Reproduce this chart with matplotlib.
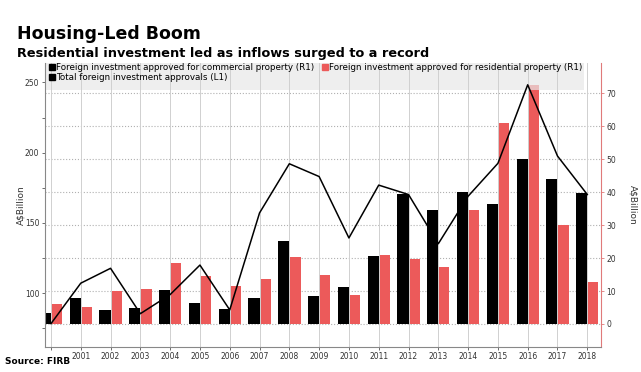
import matplotlib
matplotlib.use('Agg')
import matplotlib.pyplot as plt
from matplotlib.patches import Rectangle
from matplotlib.lines import Line2D
import numpy as np

years = list(range(2000, 2019))
# A$ billion, right axis
commercial = [3.3, 7.8, 4.1, 4.8, 10.4, 6.4, 4.5, 7.8, 25.1, 8.4, 11.1, 20.5, 39.4, 34.7, 40.0, 36.3, 50.0, 43.9, 39.6]
residential = [6.2, 5.3, 10.1, 10.7, 18.4, 14.5, 11.6, 13.5, 20.3, 14.9, 8.7, 20.9, 19.8, 17.3, 34.6, 61.0, 72.6, 30.0, 12.6]
# A$ billion, left axis
total = [78.3, 107.1, 117.7, 85.4, 99.0, 120.0, 88.1, 157.1, 192.1, 183.0, 139.3, 176.9, 170.2, 135.2, 169.0, 192.4, 248.3, 197.6, 170.2]
xlabels = [''] + [str(y) for y in years[1:]]

black = '#000000'
red = '#ec5a5a'
grey = '#555555'

fig = plt.figure(figsize=(6.41, 3.72), dpi=100)
ax = fig.add_axes([0.0702, 0.068, 0.8674, 0.7626])
ax2 = ax.twinx()

# bars on right axis
bw = 0.375
ax2.bar(years, commercial, width=-bw, align='edge', color=black, zorder=2)
ax2.bar(years, residential, width=bw, align='edge', color=red, zorder=2)
ax2.set_ylim(-6.9, 79.2)
ax2.set_yticks(range(0, 80, 10))
ax2.yaxis.grid(True, linestyle=':', color='#b0b0b0', linewidth=0.8, zorder=0)
ax2.add_patch(Rectangle((0, 0.905), 0.97, 0.095, transform=ax2.transAxes,
                        facecolor='#e8e8e8', alpha=0.7, edgecolor='none', zorder=3))

# line on left axis, drawn on top
ax.set_zorder(ax2.get_zorder() + 1)
ax.patch.set_visible(False)
ax.plot(years, total, color=black, linewidth=1.1, zorder=5)
ax.set_ylim(61.9, 263.8)
ax.set_yticks([100, 150, 200, 250])
ax.set_yticks([75, 125, 175, 225], minor=True)
ax.set_xlim(1999.8, 2018.46)
ax.set_xticks(years)
ax.set_xticklabels(xlabels)
ax.xaxis.grid(True, color='#d0d0d0', linewidth=0.7)

for a in (ax, ax2):
    a.spines['top'].set_visible(False)
    a.tick_params(labelsize=5.5, labelcolor='#333333', length=2.5, width=0.6, color=grey, pad=1.5)
ax.tick_params(which='minor', length=2, width=0.6, color=grey)
ax.spines['left'].set_color('#888888')
ax.spines['bottom'].set_color('#888888')
ax.spines['right'].set_visible(False)
ax2.spines['left'].set_visible(False)
ax2.spines['bottom'].set_visible(False)
ax2.spines['right'].set_color('#e07a7a')
ax2.tick_params(axis='y', color='#e07a7a')

ax.set_ylabel('A\\$Billion', fontsize=6.5, color='#333333', labelpad=0)
ax2.set_ylabel('A\\$Billion', fontsize=6.5, color='#333333', rotation=270, labelpad=15)

handles = [Line2D([], [], marker='s', linestyle='none', color=black, markersize=4.5),
           Line2D([], [], marker='s', linestyle='none', color=black, markersize=4.5),
           Line2D([], [], marker='s', linestyle='none', color=red, markersize=4.5)]
labels = ['Foreign investment approved for commercial property (R1)',
          'Total foreign investment approvals (L1)',
          'Foreign investment approved for residential property (R1)']
ax.legend(handles, labels, ncol=2, frameon=False, fontsize=6.3, loc='upper left',
          bbox_to_anchor=(0.0, 1.015), handlelength=0.6, handletextpad=0.2,
          columnspacing=0.9, labelspacing=0.15, borderaxespad=0.3, borderpad=0.2)

fig.text(0.026, 0.895, 'Housing-Led Boom', fontsize=12.5, fontweight='bold')
fig.text(0.026, 0.848, 'Residential investment led as inflows surged to a record',
         fontsize=9.25, fontweight='bold')
fig.text(0.008, 0.022, 'Source: FIRB', fontsize=6.5, fontweight='bold')

fig.savefig('out.png', dpi=100)
